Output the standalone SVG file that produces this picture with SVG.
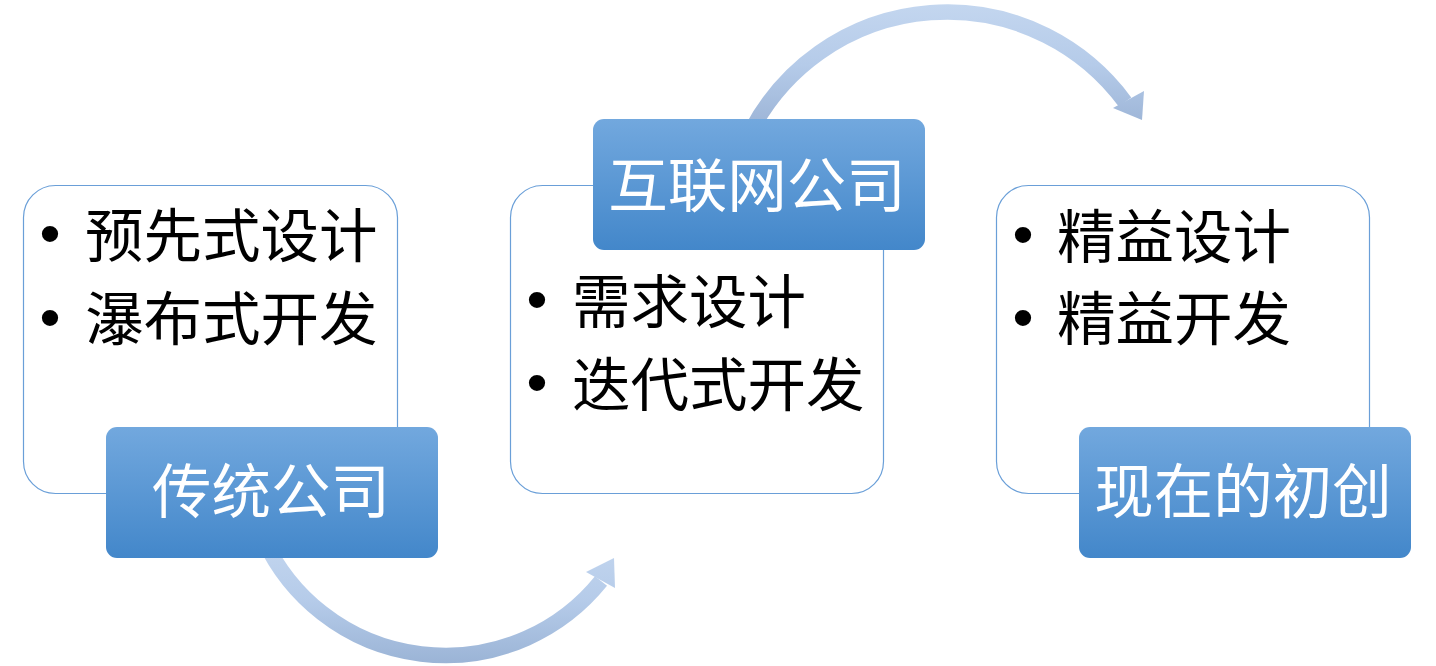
<svg xmlns="http://www.w3.org/2000/svg" width="1436" height="666" viewBox="0 0 1436 666">
<style>
.card{fill:#ffffff;stroke:#6a9fd8;stroke-width:1.2}
.label{fill:url(#lg)}
.item{font-family:"Noto Sans CJK SC","Noto Sans CJK JP",sans-serif;font-size:58.5px;fill:#000000}
.bullet{font-family:"Liberation Sans",Arial,sans-serif;font-size:60px;fill:#000000;text-anchor:middle}
.ltext{font-family:"Noto Sans CJK SC","Noto Sans CJK JP",sans-serif;font-size:59.5px;fill:#ffffff;text-anchor:middle}
.shaft{fill:none;stroke-width:15.5;stroke-linecap:butt}
</style>
<defs>
<linearGradient id="lg" x1="0" y1="0" x2="0" y2="1">
<stop offset="0" stop-color="#72a8de"/>
<stop offset="1" stop-color="#4387ca"/>
</linearGradient>
<linearGradient id="ag1" gradientUnits="userSpaceOnUse" x1="0" y1="540" x2="0" y2="663">
<stop offset="0" stop-color="#c3d6ef"/>
<stop offset="0.5" stop-color="#b5cbe9"/>
<stop offset="1" stop-color="#9bb4d6"/>
</linearGradient>
<linearGradient id="ag2" gradientUnits="userSpaceOnUse" x1="0" y1="5" x2="0" y2="125">
<stop offset="0" stop-color="#c3d6ef"/>
<stop offset="0.5" stop-color="#b5cbe9"/>
<stop offset="1" stop-color="#9db5d7"/>
</linearGradient>
</defs>
<rect width="1436" height="666" fill="#ffffff"/>
<g id="connectors">
<g id="arrow-1">
<path class="shaft" stroke="url(#ag1)" d="M 264 540 A 200 200 0 0 0 601 581"/>
<polygon fill="url(#ag1)" points="614,558 586,572 615,588"/>
</g>
<g id="arrow-2">
<path class="shaft" stroke="url(#ag2)" d="M 751.5 130 A 221 221 0 0 1 1125 102"/>
<polygon fill="url(#ag2)" points="1144,91 1113,108 1142,120"/>
</g>
</g>
<g id="node-traditional">
<rect class="card" x="23.5" y="185.5" width="374" height="308" rx="32"/>
<text class="bullet" x="50" y="254">•</text>
<text class="item" x="85" y="256.5">预先式设计</text>
<text class="bullet" x="50" y="338">•</text>
<text class="item" x="85" y="339.5">瀑布式开发</text>
<rect class="label" x="106" y="427" width="332" height="131" rx="11"/>
<text class="ltext" x="271" y="512.5">传统公司</text>
</g>
<g id="node-internet">
<rect class="card" x="510.5" y="185.5" width="373" height="308" rx="32"/>
<text class="bullet" x="537" y="320">•</text>
<text class="item" x="572" y="322.5">需求设计</text>
<text class="bullet" x="537" y="403">•</text>
<text class="item" x="572" y="405.5">迭代式开发</text>
<rect class="label" x="593" y="119" width="332" height="131" rx="11"/>
<text class="ltext" x="757" y="206.5">互联网公司</text>
</g>
<g id="node-startup">
<rect class="card" x="996.5" y="185.5" width="373" height="308" rx="32"/>
<text class="bullet" x="1023" y="255">•</text>
<text class="item" x="1057" y="257.5">精益设计</text>
<text class="bullet" x="1023" y="338">•</text>
<text class="item" x="1057" y="339.5">精益开发</text>
<rect class="label" x="1079" y="427" width="332" height="131" rx="11"/>
<text class="ltext" x="1243" y="512.5">现在的初创</text>
</g>
</svg>
